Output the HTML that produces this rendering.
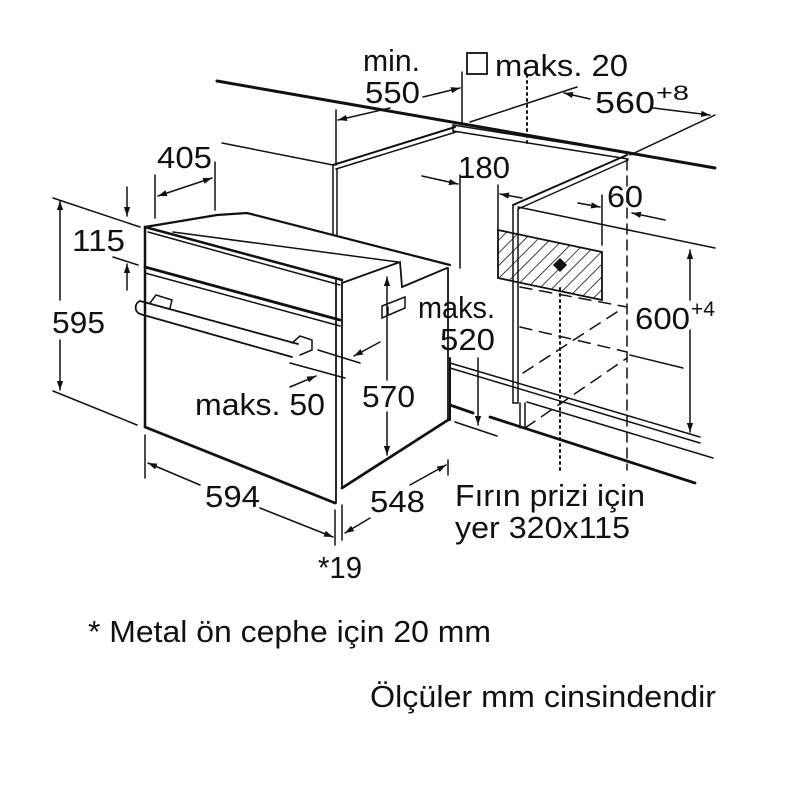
<!DOCTYPE html>
<html><head><meta charset="utf-8"><style>
html,body{margin:0;padding:0;background:#fff;}
svg{display:block;}
text{font-family:"Liberation Sans",Arial,sans-serif;fill:#111;}
</style></head><body>
<svg width="800" height="800" viewBox="0 0 800 800" xmlns="http://www.w3.org/2000/svg">
<defs>
<marker id="a" viewBox="0 0 10 10" refX="10" refY="5" markerWidth="9" markerHeight="9" orient="auto-start-reverse" markerUnits="userSpaceOnUse">
<path d="M0,1.5 L10,5 L0,8.5 Z" fill="#111"/></marker>
<pattern id="h" width="9" height="9" patternUnits="userSpaceOnUse" patternTransform="rotate(45)">
<line x1="0" y1="0" x2="0" y2="9" stroke="#111" stroke-width="1.6"/></pattern>
</defs>
<g stroke="#111" fill="none" stroke-width="1.5" stroke-linecap="round">
<line x1="217" y1="81" x2="715" y2="168" stroke-width="3"/>
<line x1="453" y1="125" x2="628" y2="153"/>
<line x1="453" y1="131" x2="628" y2="159"/>
<line x1="453" y1="125" x2="453" y2="131"/>
<line x1="333" y1="165" x2="455" y2="127" stroke-width="2"/>
<line x1="336" y1="169" x2="456" y2="132"/>
<line x1="333" y1="165" x2="333" y2="235"/>
<line x1="337" y1="169" x2="337" y2="235"/>
<line x1="222" y1="143" x2="333" y2="165"/>
<line x1="513" y1="205" x2="627" y2="155" stroke-width="2"/>
<line x1="518" y1="209" x2="628" y2="160"/>
<line x1="513" y1="205" x2="513" y2="403"/>
<line x1="518" y1="209" x2="518" y2="403"/>
<line x1="513" y1="403" x2="518" y2="403"/>
<line x1="520" y1="403" x2="520" y2="428"/><line x1="525" y1="403" x2="525" y2="428"/>
<line x1="518" y1="207" x2="715" y2="248"/>
<line x1="470" y1="122" x2="577" y2="87"/>
<line x1="630" y1="155" x2="715" y2="115"/>
<line x1="590" y1="99" x2="564" y2="93" marker-end="url(#a)"/>
<line x1="653" y1="108" x2="710" y2="115" marker-end="url(#a)"/>
<line x1="527" y1="75" x2="527" y2="143" stroke-dasharray="2 4" stroke-width="2"/>
<line x1="560" y1="288" x2="560" y2="472" stroke-dasharray="2 4" stroke-width="2"/>
<line x1="336" y1="110" x2="336" y2="165"/>
<line x1="462" y1="72" x2="462" y2="125"/>
<line x1="390" y1="108" x2="338" y2="120" marker-end="url(#a)"/>
<line x1="423" y1="97" x2="460" y2="88" marker-end="url(#a)"/>
<line x1="155" y1="175" x2="155" y2="218"/>
<line x1="215" y1="162" x2="215" y2="210"/>
<line x1="158" y1="196" x2="212" y2="178" marker-start="url(#a)" marker-end="url(#a)"/>
<line x1="127" y1="187" x2="127" y2="216" marker-end="url(#a)"/>
<line x1="127" y1="290" x2="127" y2="264" marker-end="url(#a)"/>
<line x1="113" y1="257" x2="138" y2="265"/>
<line x1="53" y1="198" x2="140" y2="227"/>
<line x1="53" y1="391" x2="137" y2="425"/>
<line x1="60" y1="300" x2="60" y2="201" marker-end="url(#a)"/>
<line x1="60" y1="340" x2="60" y2="390" marker-end="url(#a)"/>
<line x1="460" y1="175" x2="460" y2="268"/>
<line x1="422" y1="176" x2="458" y2="184" marker-end="url(#a)"/>
<line x1="498" y1="185" x2="498" y2="230"/>
<line x1="522" y1="198" x2="500" y2="194" marker-end="url(#a)"/>
<line x1="602" y1="195" x2="602" y2="245"/>
<line x1="578" y1="203" x2="600" y2="207" marker-end="url(#a)"/>
<line x1="627" y1="160" x2="627" y2="470" stroke-dasharray="10 6"/>
<line x1="665" y1="220" x2="632" y2="213" marker-end="url(#a)"/>
<path d="M498,230 L602,252 L602,300 L498,278 Z" fill="url(#h)" stroke-width="1.8"/>
<path d="M560,259 L566,265 L560,271 L554,265 Z" fill="#111"/>
<g stroke-dasharray="12 8">
<line x1="520" y1="287" x2="627" y2="307"/>
<line x1="520" y1="327" x2="627" y2="352"/>
<line x1="523" y1="373" x2="623" y2="308"/>
<line x1="525" y1="428" x2="627" y2="358"/>
</g>
<line x1="630" y1="355" x2="683" y2="368"/>
<line x1="690" y1="300" x2="690" y2="250" marker-end="url(#a)"/>
<line x1="690" y1="330" x2="690" y2="432" marker-end="url(#a)"/>
<line x1="450" y1="363" x2="700" y2="437"/>
<line x1="450" y1="368" x2="700" y2="443"/>
<line x1="527" y1="402" x2="713" y2="458"/>
<line x1="490" y1="417" x2="695" y2="483" stroke-width="2.8"/>
<line x1="450" y1="405" x2="473" y2="413" stroke-width="2.8"/>
<line x1="450" y1="358" x2="450" y2="420" stroke-width="2"/>
<line x1="478" y1="358" x2="478" y2="425" marker-end="url(#a)"/>
<line x1="455" y1="422" x2="497" y2="436"/>
<path d="M145,227 L217,215 L247,213 L450,265" stroke-width="2.2"/>
<line x1="173" y1="232" x2="398" y2="262"/>
<path d="M342,283 L400,262 L402,287 L447,268" stroke-width="1.8"/>
<line x1="145" y1="227" x2="342" y2="280" stroke-width="2.5"/>
<line x1="148" y1="232" x2="340" y2="285"/>
<line x1="145" y1="267" x2="340" y2="320" stroke-width="2.8"/>
<line x1="145" y1="273" x2="340" y2="326"/>
<line x1="145" y1="227" x2="145" y2="427" stroke-width="2.5"/>
<line x1="145" y1="427" x2="335" y2="503" stroke-width="2.8"/>
<line x1="336" y1="280" x2="336" y2="503" stroke-width="1.8"/>
<line x1="342" y1="282" x2="342" y2="488" stroke-width="1.8"/>
<line x1="342" y1="488" x2="448" y2="420" stroke-width="2.8"/>
<line x1="448" y1="268" x2="448" y2="420" stroke-width="1.8"/>
<path d="M140,301 L298,344 M140,314 L292,357 M140,301 A7,7 0 0 0 140,314" stroke-width="1.8"/>
<path d="M150,303 L156,295 L172,300 L170,308" />
<path d="M292,343 L300,336 L312,340 L312,350 L300,355" />
<path d="M382,306 L405,297 L405,308 L382,318 Z"/>
<line x1="388" y1="307" x2="388" y2="315"/>
<line x1="387" y1="380" x2="387" y2="277" marker-end="url(#a)"/>
<line x1="387" y1="412" x2="387" y2="455" marker-end="url(#a)"/>
<line x1="318" y1="350" x2="360" y2="363"/>
<line x1="380" y1="342" x2="354" y2="356" marker-end="url(#a)"/>
<line x1="290" y1="363" x2="345" y2="378"/>
<line x1="290" y1="387" x2="316" y2="376" marker-end="url(#a)"/>
<line x1="145" y1="435" x2="145" y2="478"/>
<line x1="335" y1="510" x2="335" y2="545"/>
<line x1="200" y1="485" x2="148" y2="463" marker-end="url(#a)"/>
<line x1="260" y1="508" x2="333" y2="537" marker-end="url(#a)"/>
<line x1="342" y1="505" x2="342" y2="540"/>
<line x1="448" y1="460" x2="448" y2="475"/>
<line x1="370" y1="518" x2="345" y2="533" marker-end="url(#a)"/>
<line x1="410" y1="485" x2="446" y2="465" marker-end="url(#a)"/>
</g>
<rect x="467" y="53" width="20" height="21" fill="none" stroke="#111" stroke-width="1.8"/>
<g font-size="31" lengthAdjust="spacingAndGlyphs">
<text x="363" y="71" textLength="57" lengthAdjust="spacingAndGlyphs">min.</text>
<text x="365" y="103" textLength="55" lengthAdjust="spacingAndGlyphs">550</text>
<text x="495" y="76" textLength="133" lengthAdjust="spacingAndGlyphs">maks. 20</text>
<text x="595" y="113" textLength="60" lengthAdjust="spacingAndGlyphs">560</text>
<text x="656" y="100" font-size="21" textLength="33" lengthAdjust="spacingAndGlyphs">+8</text>
<text x="157" y="168" textLength="55" lengthAdjust="spacingAndGlyphs">405</text>
<text x="458" y="178" textLength="52" lengthAdjust="spacingAndGlyphs">180</text>
<text x="607" y="207" textLength="36" lengthAdjust="spacingAndGlyphs">60</text>
<text x="72" y="251" textLength="53" lengthAdjust="spacingAndGlyphs">115</text>
<text x="52" y="333" textLength="53" lengthAdjust="spacingAndGlyphs">595</text>
<text x="418" y="318" textLength="77" lengthAdjust="spacingAndGlyphs">maks.</text>
<text x="440" y="350" textLength="55" lengthAdjust="spacingAndGlyphs">520</text>
<text x="635" y="329" textLength="55" lengthAdjust="spacingAndGlyphs">600</text>
<text x="691" y="316" font-size="21" textLength="24" lengthAdjust="spacingAndGlyphs">+4</text>
<text x="195" y="415" textLength="130" lengthAdjust="spacingAndGlyphs">maks. 50</text>
<text x="362" y="407" textLength="53" lengthAdjust="spacingAndGlyphs">570</text>
<text x="205" y="507" textLength="55" lengthAdjust="spacingAndGlyphs">594</text>
<text x="370" y="512" textLength="55" lengthAdjust="spacingAndGlyphs">548</text>
<text x="455" y="506" textLength="190" lengthAdjust="spacingAndGlyphs">Fırın prizi için</text>
<text x="455" y="538" textLength="175" lengthAdjust="spacingAndGlyphs">yer 320x115</text>
<text x="318" y="578" textLength="44" lengthAdjust="spacingAndGlyphs">*19</text>
<text x="88" y="642" textLength="403" lengthAdjust="spacingAndGlyphs">* Metal ön cephe için 20 mm</text>
<text x="370" y="707" textLength="346" lengthAdjust="spacingAndGlyphs">Ölçüler mm cinsindendir</text>
</g>
</svg>
</body></html>
